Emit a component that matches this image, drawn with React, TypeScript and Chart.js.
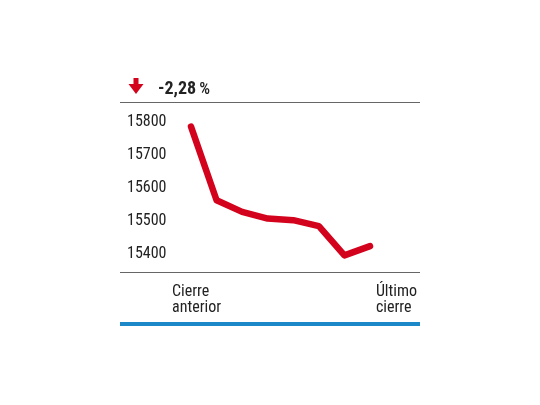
import { useEffect, useRef } from "react";
import { Chart, registerables } from "chart.js";

Chart.register(...registerables);

// Merval-style index, closes from previous close to last close
const sessions = [0, 1, 2, 3, 4, 5, 6, 7];
const closes = [15785, 15563, 15528, 15508, 15503, 15485, 15397, 15425];
const yTicks = [15400, 15500, 15600, 15700, 15800];
const xLabels = [
  ["Cierre", "anterior"],
  ["Último", "cierre"],
];
const changeValue = "-2,28";
const changeUnit = "%";

const FONT = '"Roboto Condensed", "Roboto", sans-serif';
const RED = "#d4031d";
const BLUE = "#1c88c8";

const framePlugin = {
  id: "frame",
  afterDraw(chart: any) {
    const { ctx, chartArea } = chart;
    const left = chart.scales.y.left - 7;
    const right = chartArea.right;
    ctx.save();

    // top and bottom rules
    ctx.strokeStyle = "#666666";
    ctx.lineWidth = 1;
    [chartArea.top, chartArea.bottom].forEach((yy: number) => {
      const y = Math.round(yy) + 0.5;
      ctx.beginPath();
      ctx.moveTo(left, y);
      ctx.lineTo(right, y);
      ctx.stroke();
    });

    // blue footer rule
    ctx.fillStyle = BLUE;
    ctx.fillRect(left, chartArea.bottom + 50, right - left, 4);

    // down arrow
    const ax = left + 16;
    const top = chartArea.top - 24;
    ctx.fillStyle = RED;
    ctx.fillRect(ax - 2.5, top, 5, 10);
    ctx.beginPath();
    ctx.moveTo(ax - 7.5, top + 6);
    ctx.lineTo(ax + 7.5, top + 6);
    ctx.lineTo(ax, top + 16);
    ctx.closePath();
    ctx.fill();

    // change text
    ctx.fillStyle = "#222222";
    ctx.textBaseline = "alphabetic";
    ctx.textAlign = "left";
    ctx.font = `bold 18px ${FONT}`;
    const tx = left + 38;
    const ty = chartArea.top - 8;
    ctx.fillText(changeValue, tx, ty);
    const w = ctx.measureText(changeValue).width;
    ctx.font = `500 17px ${FONT}`;
    ctx.fillText(changeUnit, tx + w + 3, ty);

    ctx.restore();
  },
};

export default function App() {
  const canvasRef = useRef<HTMLCanvasElement | null>(null);

  useEffect(() => {
    if (!canvasRef.current) return;

    const chart = new Chart(canvasRef.current, {
      type: "line",
      data: {
        datasets: [
          {
            data: sessions.map((s, i) => ({ x: s, y: closes[i] })),
            borderColor: RED,
            borderWidth: 6.5,
            borderJoinStyle: "round",
            borderCapStyle: "round",
            pointRadius: 0,
            tension: 0,
            clip: false,
          },
        ],
      },
      options: {
        responsive: false,
        animation: false,
        layout: { padding: { left: 127, right: 120, top: 102, bottom: 73 } },
        plugins: {
          legend: { display: false },
          tooltip: { enabled: false },
        },
        scales: {
          x: {
            type: "linear",
            min: -0.743,
            max: 8.955,
            grid: { display: false },
            border: { display: false },
            afterBuildTicks: (scale: any) => {
              scale.ticks = [{ value: -0.743 }, { value: 7.23 }];
            },
            afterFit: (scale: any) => {
              scale.height = 60;
            },
            ticks: {
              align: "start",
              autoSkip: false,
              maxRotation: 0,
              padding: 4,
              color: "#222222",
              font: { family: FONT, size: 16, lineHeight: 1 },
              callback: (_v: any, i: number) => xLabels[i],
            },
          },
          y: {
            min: 15347,
            max: 15859,
            grid: { display: false },
            border: { display: false },
            afterBuildTicks: (scale: any) => {
              scale.ticks = yTicks.map((v) => ({ value: v }));
            },
            afterFit: (scale: any) => {
              scale.width = 45;
            },
            ticks: {
              crossAlign: "far",
              padding: 0,
              color: "#222222",
              font: { family: FONT, size: 16 },
              callback: (v: any) => String(v),
            },
          },
        },
      },
      plugins: [framePlugin],
    });

    return () => {
      chart.destroy();
    };
  }, []);

  return (
    <div
      style={{
        position: "fixed",
        left: 0,
        top: 0,
        width: 540,
        height: 405,
        background: "#ffffff",
      }}
    >
      <canvas ref={canvasRef} width={540} height={405} />
    </div>
  );
}
